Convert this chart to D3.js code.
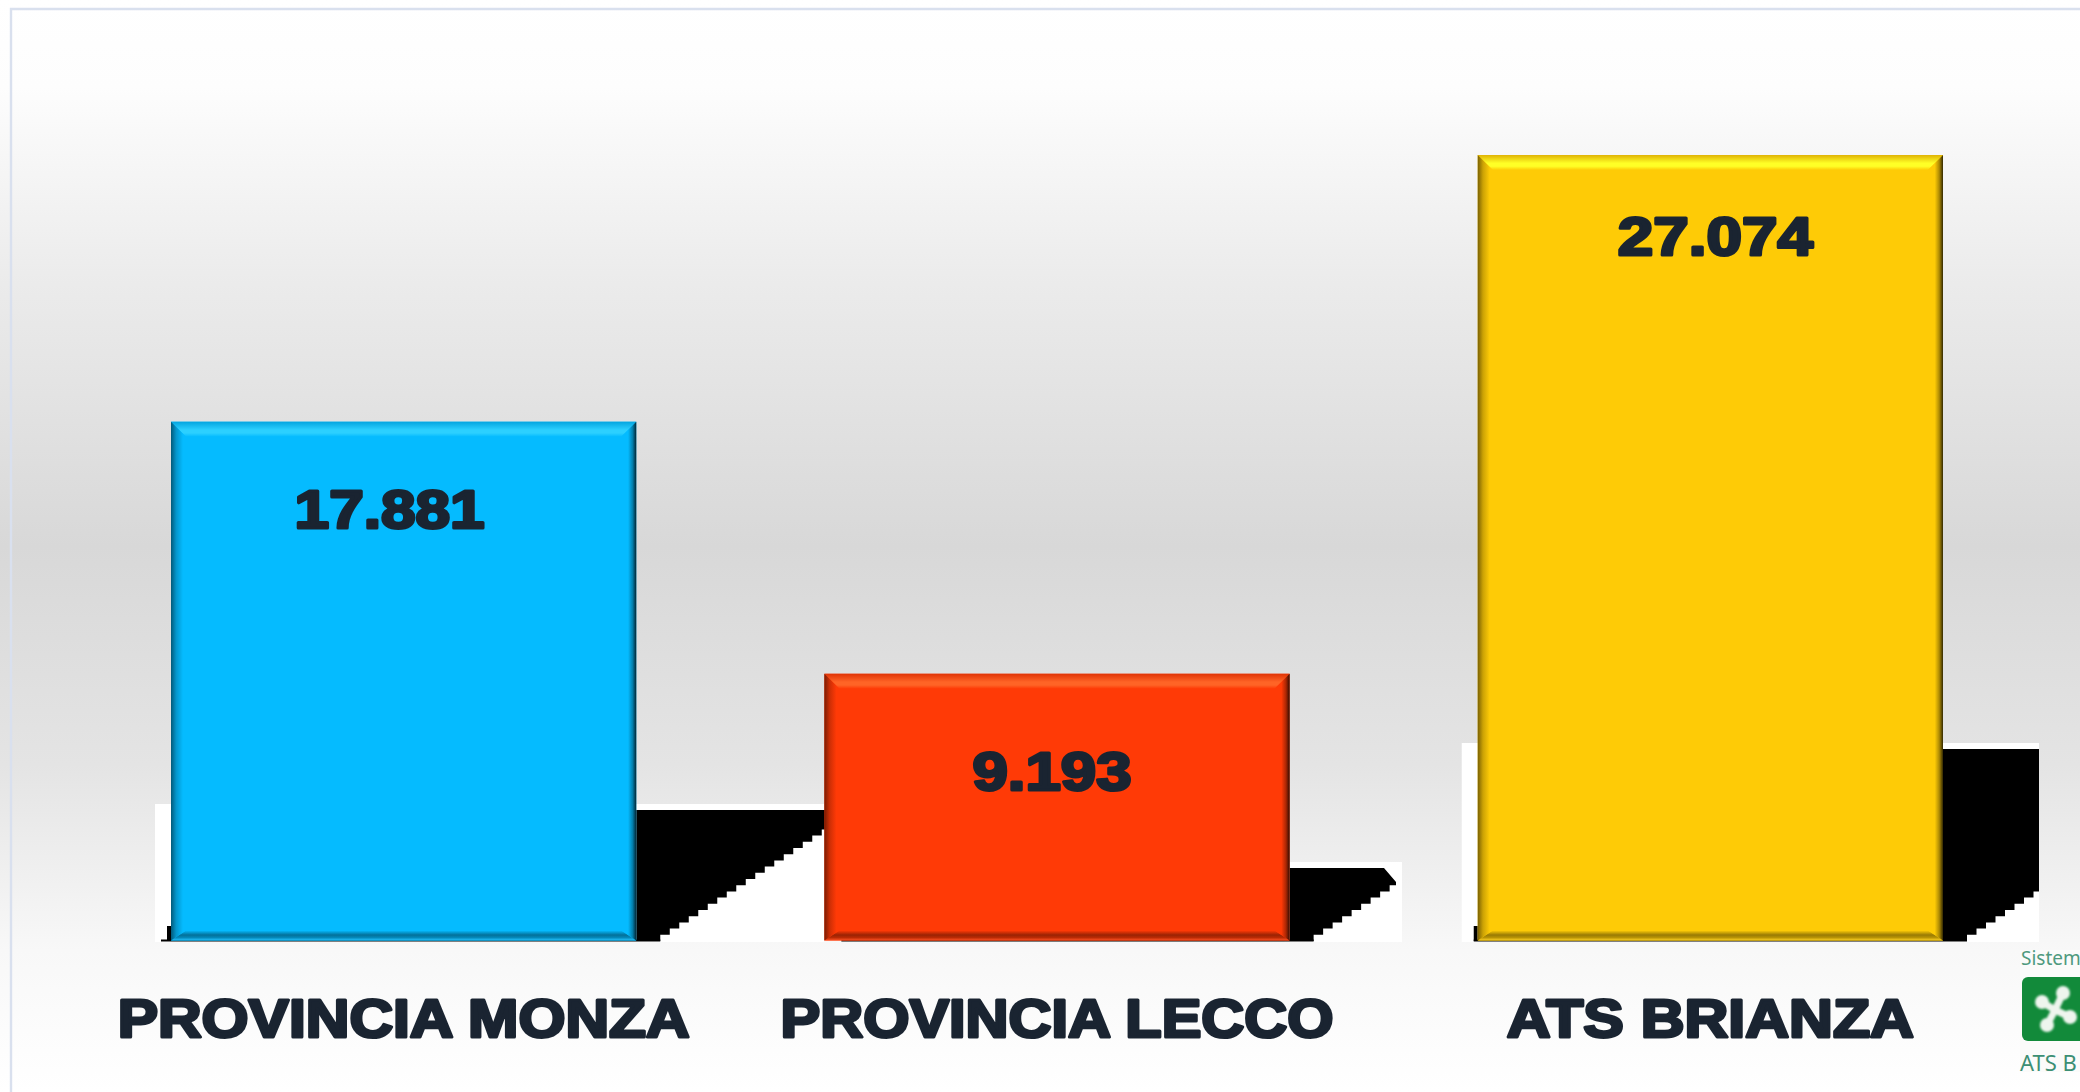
<!DOCTYPE html>
<html><head><meta charset="utf-8">
<script src="https://cdn.jsdelivr.net/npm/d3@7"></script>
<style>html,body{margin:0;padding:0;background:#fff;overflow:hidden}svg{display:block}</style>
</head><body><svg id="c" width="2080" height="1092"></svg>
<script>
const categories = ["PROVINCIA MONZA", "PROVINCIA LECCO", "ATS BRIANZA"];
const values = [17881, 9193, 27074];
const fills = ["#05bbff", "#ff3a06", "#fecb06"];
const highlights = ["#2cd0ff", "#ff6426", "#ffff26"];
const categoryLabelWidths = [572, 553, 407];
const valueLabelWidths = [190, 159, 195];
const valueLabelShift = [-14, -5, 5];
const valueLabelDrop = [108, 118, 102];
const shadowReach = [830, 1396, 2039];
const shadowChamfer = [0, 12, 0];
const whiteRight = [824, 1402, 2039];
const baselineLeft = [-10, 17, -4];
const leftTick = [1, 0, 1];
const shadowTopScale = d3.scaleLinear().domain([9193, 17881, 27074]).range([868, 810, 749]);

const W = 2080, H = 1092, base = 940.5, ink = "#1a2431";
const svg = d3.select("#c");
const defs = svg.append("defs");
const grad = (id, x2, y2, stops) => {
  const g = defs.append("linearGradient").attr("id", id).attr("x1", 0).attr("y1", 0).attr("x2", x2).attr("y2", y2);
  stops.forEach(([o, c]) => g.append("stop").attr("offset", o).attr("stop-color", c));
};
grad("bg", 0, 1, [[0, "#ffffff"], [0.08, "#fdfdfd"], [0.26, "#ebebeb"], [0.5, "#d8d8d8"], [0.7, "#e4e4e4"], [0.87, "#f8f8f8"], [1, "#ffffff"]]);
svg.append("rect").attr("width", W).attr("height", H).attr("fill", "url(#bg)");
svg.append("path").attr("d", `M11 ${H}V9H${W}`).attr("fill", "none").attr("stroke", "#d9e0ee").attr("stroke-width", 2.4);

const x = d3.scaleBand().domain(categories).range([171, 1943]).paddingInner(188 / 653).paddingOuter(0);
const y = d3.scaleLinear().domain([0, 27074]).range([base, 155]);
const fmt = d3.formatLocale({decimal: ",", thousands: ".", grouping: [3], currency: ["", ""]}).format(",d");
const rows = categories.map((c, i) => ({c, i, v: values[i], l: x(c), r: x(c) + x.bandwidth(), t: y(values[i])}));

// white patch and stepped shadow behind each bar
rows.forEach(d => {
  const top = shadowTopScale(d.v), left = d.i === 1 ? d.r - 5 : d.l - 16;
  svg.append("rect").attr("x", left).attr("y", top - 6).attr("width", whiteRight[d.i] - left).attr("height", 942 - top + 6).attr("fill", "#fff");
});
rows.forEach(d => {
  const top = shadowTopScale(d.v), reach = shadowReach[d.i], ch = shadowChamfer[d.i];
  const pts = [[d.r, top], [reach - ch, top]];
  if (ch) pts.push([reach, top + 14]);
  const sx = 9.5, sy = 6.2, start = d.r + 24;
  const steps = [];
  for (let cx = start, cy = 941; cx < reach && cy > top; cx += sx) {
    steps.push([cx, cy]); cy -= sy; steps.push([cx, cy]);
  }
  steps.push([reach, steps[steps.length - 1][1]]);
  pts.push(...steps.reverse());
  pts.push([d.r, 941]);
  svg.append("path").attr("d", d3.line()(pts) + "Z").attr("fill", "#000");
  svg.append("rect").attr("x", d.l + baselineLeft[d.i]).attr("y", 939.5).attr("width", x.bandwidth() + 24 - baselineLeft[d.i]).attr("height", 2).attr("fill", "#000");
  if (leftTick[d.i]) svg.append("rect").attr("x", d.l - 4).attr("y", 926).attr("width", 4).attr("height", 15).attr("fill", "#000");
});

// bevelled bars
const mix = (a, b, t) => d3.interpolateRgb(a, b)(t);
const bw = 15, th = 15, bh = 10;
rows.forEach(d => {
  const f = fills[d.i];
  grad(`t${d.i}`, 0, 1, [[0, mix(f, "#000", .12)], [.55, highlights[d.i]], [.75, highlights[d.i]], [1, f]]);
  grad(`l${d.i}`, 1, 0, [[0, mix(f, "#000", .52)], [.35, mix(f, "#000", .2)], [.8, f], [1, f]]);
  grad(`r${d.i}`, 1, 0, [[0, f], [.45, f], [.75, mix(f, "#000", .32)], [1, mix(f, "#000", .8)]]);
  grad(`b${d.i}`, 0, 1, [[0, f], [.45, mix(f, "#000", .4)], [.7, mix(f, "#000", .28)], [1, mix(f, "#fff", .12)]]);
  const g = svg.append("g");
  g.append("rect").attr("x", d.l).attr("y", d.t).attr("width", x.bandwidth()).attr("height", base - d.t).attr("fill", f);
  const poly = (p, id) => g.append("polygon").attr("points", p.map(q => q.join(",")).join(" ")).attr("fill", `url(#${id})`);
  poly([[d.l, d.t], [d.r, d.t], [d.r - bw, d.t + th], [d.l + bw, d.t + th]], `t${d.i}`);
  poly([[d.l, base], [d.r, base], [d.r - bw, base - bh], [d.l + bw, base - bh]], `b${d.i}`);
  poly([[d.l, d.t], [d.l + bw, d.t + th], [d.l + bw, base - bh], [d.l, base]], `l${d.i}`);
  poly([[d.r, d.t], [d.r - bw, d.t + th], [d.r - bw, base - bh], [d.r, base]], `r${d.i}`);
});

// value labels
const heavy = s => s.attr("font-family", "'Liberation Sans', Arial, sans-serif").attr("font-weight", 700)
  .attr("font-size", 54).attr("fill", ink).attr("stroke", ink).attr("stroke-width", 3).attr("stroke-linejoin", "round");
svg.selectAll("text.v").data(rows).join("text").attr("class", "v")
  .attr("x", d => d.l + x.bandwidth() / 2 + valueLabelShift[d.i])
  .attr("y", d => d.t + valueLabelDrop[d.i] - 2)
  .attr("text-anchor", "middle")
  .attr("textLength", d => valueLabelWidths[d.i]).attr("lengthAdjust", "spacingAndGlyphs")
  .text(d => fmt(d.v)).call(heavy);

// category axis
const ax = svg.append("g").attr("transform", "translate(0,1037)").call(d3.axisBottom(x).tickSize(0).tickPadding(0));
ax.select(".domain").remove();
ax.selectAll("text").attr("dy", 0).attr("y", 0).each(function (c) {
  d3.select(this).attr("textLength", categoryLabelWidths[categories.indexOf(c)]).attr("lengthAdjust", "spacingAndGlyphs");
}).call(heavy);

// logo at the right edge
const logo = svg.append("g");
logo.append("rect").attr("x", 2020).attr("y", 950).attr("width", 60).attr("height", 122).attr("fill", "#fbfbfa");
logo.append("text").attr("x", 2021).attr("y", 965).attr("font-family", "'Noto Sans', sans-serif").attr("font-size", 19).attr("fill", "#4f9a7e").text("Sistem");
logo.append("rect").attr("x", 2022).attr("y", 977).attr("width", 80).attr("height", 64).attr("rx", 6).attr("fill", "#128a3a");
defs.append("filter").attr("id", "soft").append("feGaussianBlur").attr("stdDeviation", .8);
const mark = logo.append("g").attr("filter", "url(#soft)").attr("fill", "#eef5ee").attr("stroke", "#eef5ee");
[[2042, 1002], [2063, 993], [2070, 1017], [2047, 1025]].forEach(([a, b]) => {
  mark.append("line").attr("x1", 2055).attr("y1", 1010).attr("x2", a).attr("y2", b).attr("stroke-width", 7);
  mark.append("circle").attr("cx", a).attr("cy", b).attr("r", 7).attr("stroke", "none");
});
logo.append("text").attr("x", 2020).attr("y", 1071).attr("font-family", "'Noto Sans', sans-serif").attr("font-size", 22).attr("fill", "#3d8f74").text("ATS B");
</script></body></html>
